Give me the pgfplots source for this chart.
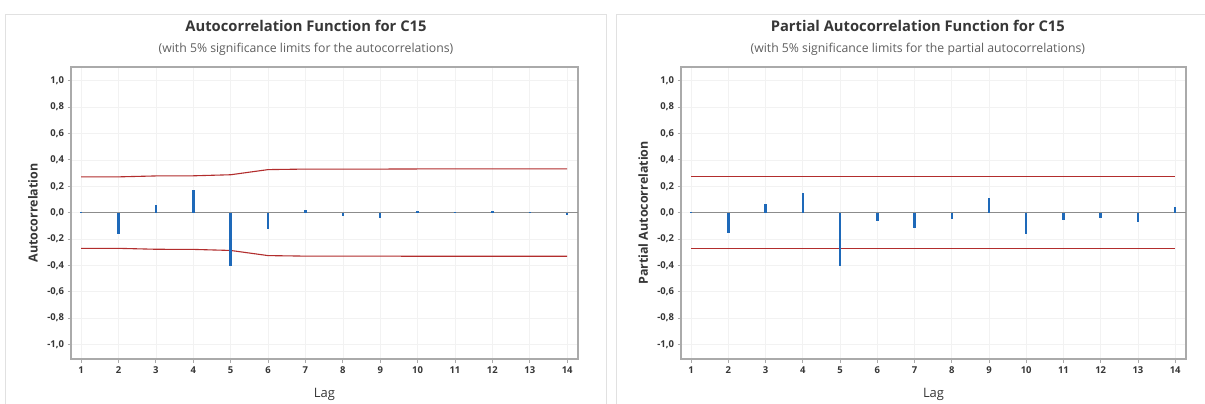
\documentclass[border=0pt]{standalone}
\usepackage{fontspec}
\setmainfont{Open Sans}
\usepackage{pgfplots}
\pgfplotsset{compat=1.18}
\definecolor{barblue}{RGB}{30,105,185}
\definecolor{limred}{RGB}{178,45,45}
\definecolor{framegray}{RGB}{170,170,170}
\definecolor{panelgray}{RGB}{225,225,225}
\definecolor{txt}{RGB}{55,55,55}
\definecolor{subtxt}{RGB}{95,95,95}

\pgfplotsset{
  acf/.style={
    scale only axis,height=292bp,clip=false,
    xmin=0.73,xmax=14.29,ymin=-1.11,ymax=1.104,
    xtick={1,2,3,4,5,6,7,8,9,10,11,12,13,14},
    ytick={-1,-0.8,-0.6,-0.4,-0.2,0,0.2,0.4,0.6,0.8,1},
    grid=major,grid style={black!5,line width=0.6bp},
    axis line style={framegray,line width=1.2bp},
    tick align=outside,major tick length=3.5bp,
    tick style={framegray,line width=0.8bp},
    xtick pos=left,ytick pos=left,
    ticklabel style={font=\fontsize{9.5}{11}\selectfont\bfseries,text=txt},
    xticklabel style={yshift=-1bp},
    /pgf/number format/assume math mode=true,
    yticklabel style={/pgf/number format/.cd,fixed,fixed zerofill,precision=1,use comma,assume math mode=true},
    xlabel={Lag},
    xlabel style={at={(axis description cs:0.5,-0.12)},anchor=center,font=\fontsize{13}{15}\selectfont,text=txt},
    ylabel style={at={(axis description cs:-0.075,0.5)},anchor=center,font=\fontsize{12.5}{14}\selectfont\bfseries,text=txt},
    title style={font=\fontsize{14.8}{17}\selectfont\bfseries,text=txt,anchor=center},
  },
  bars/.style={ycomb,barblue,line width=2.5bp,no marks},
  lims/.style={limred,line width=1.1bp,no marks},
  zero/.style={black!45,line width=0.8bp,no marks},
}

\begin{document}
\begin{tikzpicture}
\path[use as bounding box,fill=white] (0,0) rectangle (1205bp,404bp);
\draw[panelgray,line width=0.8bp] (5bp,-5bp) -- (5bp,390bp) -- (606bp,390bp) -- (606bp,-5bp);
\draw[panelgray,line width=0.8bp] (616bp,-5bp) -- (616bp,390bp) -- (1210bp,390bp);

% ACF
\begin{axis}[acf,at={(71bp,45bp)},anchor=south west,width=507bp,
  ylabel={Autocorrelation},
  title={Autocorrelation Function for C15},
  title style={at={(axis description cs:0.4635,1.12)}},
]
  \addplot[zero] coordinates {(1,0) (14.29,0)};
  \addplot[lims] coordinates {(1,0.271) (2,0.271) (3,0.278) (4,0.279) (5,0.287) (6,0.326) (7,0.330) (8,0.330) (9,0.330) (10,0.331) (11,0.331) (12,0.331) (13,0.331) (14,0.331)};
  \addplot[lims] coordinates {(1,-0.271) (2,-0.271) (3,-0.278) (4,-0.279) (5,-0.287) (6,-0.326) (7,-0.330) (8,-0.330) (9,-0.330) (10,-0.331) (11,-0.331) (12,-0.331) (13,-0.331) (14,-0.331)};
  \addplot[bars] coordinates {(1,0.002) (2,-0.160) (3,0.058) (4,0.175) (5,-0.405) (6,-0.124) (7,0.018) (8,-0.023) (9,-0.043) (10,0.015) (11,0.003) (12,0.012) (13,0.008) (14,-0.015)};
  \node[font=\fontsize{12.3}{14}\selectfont,text=subtxt] at (axis description cs:0.4635,1.062) {(with 5\% significance limits for the autocorrelations)};
\end{axis}

% PACF
\begin{axis}[acf,at={(681bp,45bp)},anchor=south west,width=505bp,
  ylabel={Partial Autocorrelation},
  title={Partial Autocorrelation Function for C15},
  title style={at={(axis description cs:0.469,1.12)}},
]
  \addplot[zero] coordinates {(1,0) (14.29,0)};
  \addplot[lims] coordinates {(1,0.271) (14,0.271)};
  \addplot[lims] coordinates {(1,-0.271) (14,-0.271)};
  \addplot[bars] coordinates {(1,0.002) (2,-0.157) (3,0.063) (4,0.152) (5,-0.405) (6,-0.063) (7,-0.114) (8,-0.048) (9,0.109) (10,-0.165) (11,-0.053) (12,-0.043) (13,-0.068) (14,0.040)};
  \node[font=\fontsize{12.3}{14}\selectfont,text=subtxt] at (axis description cs:0.469,1.062) {(with 5\% significance limits for the partial autocorrelations)};
\end{axis}
\end{tikzpicture}
\end{document}
